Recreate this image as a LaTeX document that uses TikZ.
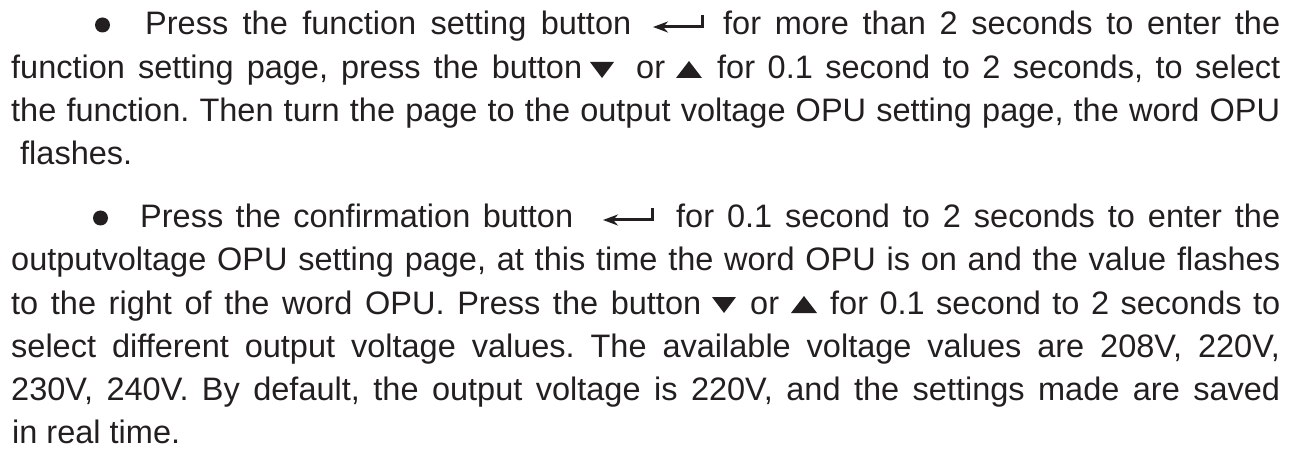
\documentclass[tikz,border=0pt]{standalone}
\usepackage{fontspec}
\setmainfont{Liberation Sans}
\usetikzlibrary{arrows.meta}
\definecolor{ink}{HTML}{231F20}
\frenchspacing

\begin{document}
\begin{tikzpicture}[x=1pt, y=-1pt, >=Stealth,
    txt/.style={anchor=base west, inner sep=0pt, text=ink, font=\fontsize{32.5}{39}\selectfont},
    keyline/.style={ink, line width=3pt, line join=miter}]

    \useasboundingbox (0,0) rectangle (1299,449);

    % Baselines of the lines (one unit = one pixel)
    \def\Ba{35}  \def\Bb{79}  \def\Bc{122} \def\Bd{165}
    \def\Be{228} \def\Bf{271} \def\Bg{314} \def\Bh{357} \def\Bi{400} \def\Bj{443}

    % First item
    \fill[ink] (102.5,\Ba-10) circle (7.5);
    \node[txt] (p1a) at (145,\Ba) {\makebox[486pt][s]{Press the function setting button}};
    \draw[keyline, -{Stealth[length=15pt, width=11pt]}] (702,\Ba-20) -- (702,\Ba-8) -- (653,\Ba-8);
    \node[txt] (p1b) at (723,\Ba) {\makebox[557pt][s]{for more than 2 seconds to enter the}};

    \node[txt] (p1c) at (11,\Bb) {\makebox[571pt][s]{function setting page, press the button}};
    \fill[ink] (590,\Bb-17) -- (614,\Bb-17) -- (602,\Bb-1) -- cycle;
    \node[txt] (p1d) at (636,\Bb) {or};
    \fill[ink] (676,\Bb-1) -- (702,\Bb-1) -- (689,\Bb-18) -- cycle;
    \node[txt] (p1e) at (717,\Bb) {\makebox[563pt][s]{for 0.1 second to 2 seconds, to select}};

    \node[txt] (p1f) at (11,\Bc) {\makebox[1269pt][s]{the function. Then turn the page to the output voltage OPU setting page, the word OPU}};
    \node[txt] (p1g) at (20,\Bd) {flashes.};

    % Second item
    \fill[ink] (100.5,\Be-10) circle (7.5);
    \node[txt] (p2a) at (140,\Be) {\makebox[433pt][s]{Press the confirmation button}};
    \draw[keyline, -{Stealth[length=15pt, width=11pt]}] (652,\Be-20) -- (652,\Be-8) -- (603,\Be-8);
    \node[txt] (p2b) at (676,\Be) {\makebox[604pt][s]{for 0.1 second to 2 seconds to enter the}};

    \node[txt] (p2c) at (11,\Bf) {\makebox[1269pt][s]{outputvoltage OPU setting page, at this time the word OPU is on and the value flashes}};

    \node[txt] (p2d) at (11,\Bg) {\makebox[690pt][s]{to the right of the word OPU. Press the button}};
    \fill[ink] (712,\Bg-17) -- (736,\Bg-17) -- (724,\Bg-1) -- cycle;
    \node[txt] (p2e) at (750,\Bg) {or};
    \fill[ink] (791,\Bg-1) -- (817,\Bg-1) -- (804,\Bg-18) -- cycle;
    \node[txt] (p2f) at (830,\Bg) {\makebox[450pt][s]{for 0.1 second to 2 seconds to}};

    \node[txt] (p2g) at (11,\Bh) {\makebox[1269pt][s]{select different output voltage values. The available voltage values are 208V, 220V,}};
    \node[txt] (p2h) at (11,\Bi) {\makebox[1269pt][s]{230V, 240V. By default, the output voltage is 220V, and the settings made are saved}};
    \node[txt] (p2i) at (12,\Bj) {in real time.};

\end{tikzpicture}
\end{document}
